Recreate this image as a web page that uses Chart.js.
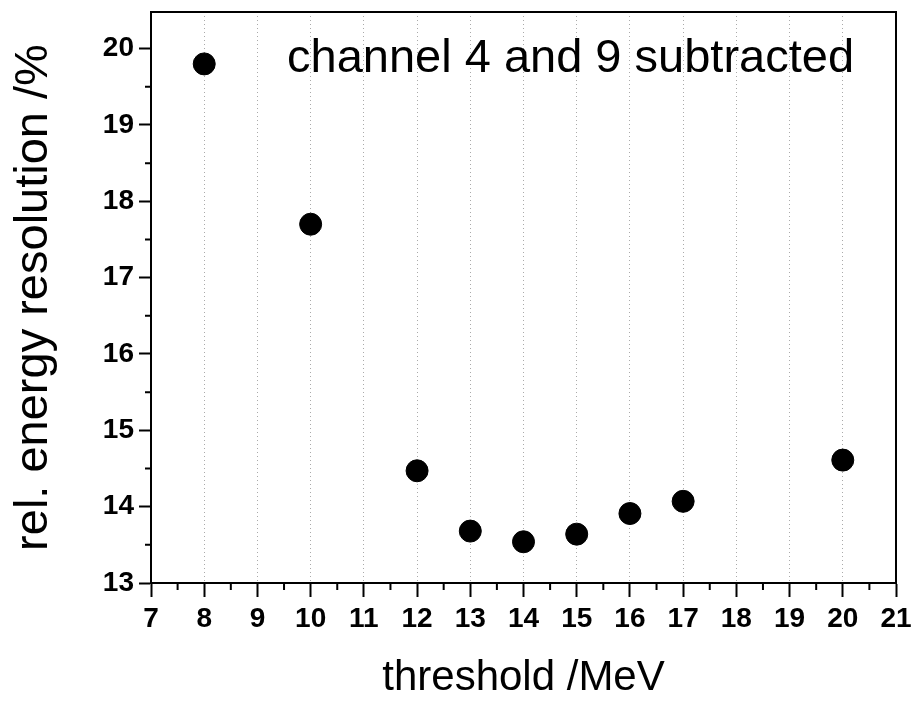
<!DOCTYPE html>
<html>
<head>
<meta charset="utf-8">
<script src="https://cdn.jsdelivr.net/npm/chart.js@4"></script>
<style>
  body { margin: 0; background: #ffffff; }
  #wrap { width: 922px; height: 704px; }
</style>
</head>
<body>
<div id="wrap"><canvas id="scatterChart" width="922" height="704"></canvas></div>
<script>
const thresholds = [8, 10, 12, 13, 14, 15, 16, 17, 20];
const resolution = [19.80, 17.70, 14.47, 13.68, 13.54, 13.64, 13.91, 14.07, 14.61];
const xTicks = [7, 8, 9, 10, 11, 12, 13, 14, 15, 16, 17, 18, 19, 20, 21];
const yTicks = [13, 14, 15, 16, 17, 18, 19, 20];
const seriesLabel = 'channel 4 and 9 subtracted';

const FONT = '"Liberation Sans", Arial, sans-serif';

// frame on top/right, minor ticks and the legend text
const extras = {
  id: 'extras',
  afterDraw(chart) {
    const ctx = chart.ctx;
    const area = chart.chartArea;
    const x = chart.scales.x;
    const y = chart.scales.y;
    ctx.save();
    ctx.strokeStyle = '#000';
    ctx.lineWidth = 2;
    ctx.beginPath();
    ctx.moveTo(area.left, area.top);
    ctx.lineTo(area.right, area.top);
    ctx.lineTo(area.right, area.bottom);
    ctx.stroke();

    ctx.beginPath();
    for (let i = 0; i < xTicks.length - 1; i++) {
      const px = x.getPixelForValue(xTicks[i] + 0.5);
      ctx.moveTo(px, area.bottom);
      ctx.lineTo(px, area.bottom + 7);
    }
    for (let i = 0; i < yTicks.length; i++) {
      const py = y.getPixelForValue(yTicks[i] + 0.5);
      if (py < area.top) continue;
      ctx.moveTo(area.left, py);
      ctx.lineTo(area.left - 6, py);
    }
    ctx.stroke();

    ctx.fillStyle = '#000';
    ctx.font = '47px ' + FONT;
    ctx.textBaseline = 'alphabetic';
    ctx.fillText(seriesLabel, 287, 72);
    ctx.restore();
  }
};

new Chart(document.getElementById('scatterChart'), {
  type: 'scatter',
  data: {
    datasets: [{
      label: seriesLabel,
      data: thresholds.map((t, i) => ({ x: t, y: resolution[i] })),
      backgroundColor: '#000',
      borderColor: '#000',
      pointRadius: 11,
      pointHoverRadius: 11
    }]
  },
  options: {
    responsive: false,
    animation: false,
    layout: { padding: { left: 0, right: 26, top: 10, bottom: 0 } },
    plugins: {
      legend: { display: false },
      tooltip: { enabled: false }
    },
    scales: {
      x: {
        min: 7,
        max: 21,
        afterFit(scale) {
          scale.height = 704 - 583;
          scale.paddingLeft = 0;
          scale.paddingRight = 0;
        },
        afterBuildTicks(scale) { scale.ticks = xTicks.map(v => ({ value: v })); },
        ticks: {
          color: '#000',
          padding: 5,
          font: { family: FONT, size: 28, weight: 'bold' }
        },
        grid: {
          color: '#aaaaaa',
          lineWidth: 1,
          tickColor: '#000',
          tickWidth: 2,
          tickLength: 14
        },
        border: { display: true, color: '#000', width: 2, dash: [1, 3] },
        title: {
          display: true,
          text: 'threshold /MeV',
          color: '#000',
          padding: { top: 10, bottom: 0 },
          font: { family: FONT, size: 42 }
        }
      },
      y: {
        min: 13,
        max: 20.48,
        afterFit(scale) {
          scale.width = 151;
          scale.paddingTop = 0;
          scale.paddingBottom = 0;
        },
        afterBuildTicks(scale) { scale.ticks = yTicks.map(v => ({ value: v })); },
        ticks: {
          color: '#000',
          padding: 5,
          font: { family: FONT, size: 28, weight: 'bold' }
        },
        grid: {
          drawOnChartArea: false,
          color: '#000',
          tickColor: '#000',
          tickWidth: 2,
          tickLength: 12
        },
        border: { display: true, color: '#000', width: 2 },
        title: {
          display: true,
          text: 'rel. energy resolution /%',
          color: '#000',
          padding: { top: 6, bottom: 4 },
          font: { family: FONT, size: 47 }
        }
      }
    }
  },
  plugins: [extras]
});
</script>
</body>
</html>
